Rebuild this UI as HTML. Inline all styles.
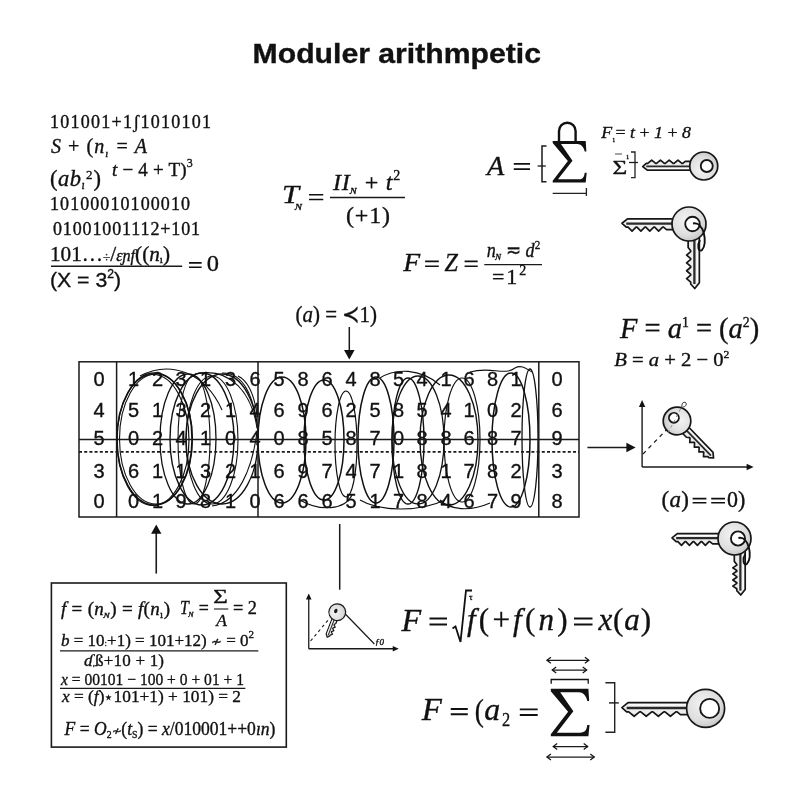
<!DOCTYPE html>
<html><head><meta charset="utf-8"><style>
html,body{margin:0;padding:0;background:#fff;}
body{width:800px;height:800px;position:relative;overflow:hidden;}
</style></head><body>
<svg width="800" height="800" viewBox="0 0 800 800" style="position:absolute;left:0;top:0;will-change:transform">
<defs><radialGradient id="kg" cx="0.42" cy="0.38" r="0.75"><stop offset="0" stop-color="#f3f3f3"/><stop offset="0.6" stop-color="#dedede"/><stop offset="1" stop-color="#b8b8b8"/></radialGradient></defs>
<style>text{stroke:#111;stroke-width:0.35px;}</style>
<g fill="#111">
<text id="title" x="252.57" y="63" font-family="Liberation Sans, sans-serif" font-size="27.5" font-style="normal" font-weight="bold" textLength="288.44" lengthAdjust="spacingAndGlyphs">Moduler arithmpetic</text>
<text id="tl1" x="49.97" y="128" font-family="Liberation Serif, serif" font-size="18" font-style="normal" font-weight="normal" textLength="161.04" lengthAdjust="spacing">101001+1ʃ1010101</text>
<text id="tl2" x="51.00" y="153" font-family="Liberation Serif, serif" font-size="20" font-style="normal" font-weight="normal" textLength="96.00" lengthAdjust="spacing"><tspan font-style="italic">S</tspan> + (<tspan font-style="italic">n</tspan><tspan font-size="11" dy="4"><tspan font-style="italic">ı</tspan></tspan><tspan dy="-4">​</tspan> = <tspan font-style="italic">A</tspan></text>
<text id="tl3" x="49.96" y="186" font-family="Liberation Serif, serif" font-size="22.5" font-style="normal" font-weight="normal" textLength="51.13" lengthAdjust="spacing">(<tspan font-style="italic">ab</tspan><tspan font-size="12" dy="3"><tspan font-style="italic">ı</tspan></tspan><tspan dy="-3">​</tspan><tspan font-size="13" dy="-7">2</tspan><tspan dy="7">​</tspan>)</text>
<text id="tl4" x="111.95" y="176" font-family="Liberation Serif, serif" font-size="19" font-style="normal" font-weight="normal" textLength="81.05" lengthAdjust="spacing"><tspan font-style="italic">t</tspan> − 4 + T)<tspan font-size="12" dy="-9">3</tspan><tspan dy="9">​</tspan></text>
<text id="tl5" x="49.98" y="210" font-family="Liberation Serif, serif" font-size="18" font-style="normal" font-weight="normal" textLength="140.02" lengthAdjust="spacing">10100010100010</text>
<text id="tl6" x="53.00" y="235" font-family="Liberation Serif, serif" font-size="18" font-style="normal" font-weight="normal" textLength="147.01" lengthAdjust="spacing">01001001112+101</text>
<text id="tl7" x="49.95" y="261" font-family="Liberation Serif, serif" font-size="21" font-style="normal" font-weight="normal" textLength="120.08" lengthAdjust="spacingAndGlyphs">101…<tspan font-size="13">÷</tspan>/<tspan font-style="italic"><tspan font-size="16">ɛɲf</tspan></tspan>((<tspan font-style="italic">n</tspan><tspan font-size="11" dy="2">ı</tspan><tspan dy="-2">​</tspan>)</text>
<line x1="51" y1="266.3" x2="182.2" y2="266.3" stroke="#1a1a1a" stroke-width="1.4" />
<path d="M189,262.9 L201.65,262.9 M189,267.2 L201.65,267.2" stroke="#111" stroke-width="1.6" fill="none"/>
<text id="tl8" x="206.85" y="271.4" font-family="Liberation Serif, serif" font-size="24" font-style="normal" font-weight="normal" textLength="12.24" lengthAdjust="spacingAndGlyphs">0</text>
<text id="tl9" x="49.97" y="286.6" font-family="Liberation Sans, sans-serif" font-size="21" font-style="normal" font-weight="normal" textLength="71.06" lengthAdjust="spacingAndGlyphs">(X = 3<tspan font-size="12" dy="-9">2</tspan><tspan dy="9">​</tspan>)</text>
<text id="tn1" x="282.00" y="203" font-family="Liberation Serif, serif" font-size="26" font-style="italic" font-weight="normal" textLength="17.00" lengthAdjust="spacingAndGlyphs">T</text>
<text id="tn2" x="295.58" y="209.5" font-family="Liberation Serif, serif" font-size="13" font-style="italic" font-weight="normal" textLength="6.42" lengthAdjust="spacingAndGlyphs">ɴ</text>
<path d="M309,194.85 L323.25,194.85 M309,199.5 L323.25,199.5" stroke="#111" stroke-width="1.5" fill="none"/>
<line x1="330" y1="197.5" x2="405" y2="197.5" stroke="#1a1a1a" stroke-width="1.6" />
<text id="tn4" x="333.00" y="190" font-family="Liberation Serif, serif" font-size="24" font-style="normal" font-weight="normal" textLength="68.02" lengthAdjust="spacing"><tspan font-style="italic">II</tspan><tspan font-size="12" dy="4"><tspan font-style="italic">ɴ</tspan></tspan><tspan dy="-4">​</tspan> + <tspan font-style="italic">t</tspan><tspan font-size="14" dy="-10">2</tspan><tspan dy="10">​</tspan></text>
<text id="tn5" x="345.95" y="222.5" font-family="Liberation Serif, serif" font-size="24" font-style="normal" font-weight="normal" textLength="44.10" lengthAdjust="spacing">(+1)</text>
<text id="a1" x="486.92" y="175.4" font-family="Liberation Serif, serif" font-size="28" font-style="italic" font-weight="normal" textLength="17.23" lengthAdjust="spacingAndGlyphs">A</text>
<path d="M513.75,163.8 L530,163.8 M513.75,169.1 L530,169.1" stroke="#111" stroke-width="1.7" fill="none"/>
<path d="M546.5,146 L542,146 L542,181.7 L546.5,181.7" fill="none" stroke="#1a1a1a" stroke-width="1.5"/>
<line x1="537.6" y1="166" x2="545.8" y2="166" stroke="#1a1a1a" stroke-width="1.3" />
<path d=" M552.70,141.00 L585.70,141.00 L586.36,151.56 L584.71,151.56 C583.72,146.80 580.75,144.10 577.45,144.10 L560.95,144.10 L572.50,160.66 L557.98,179.30 L578.44,179.30 C581.74,179.30 584.05,178.26 584.71,172.67 L586.69,172.67 L585.70,182.40 L552.70,182.40 L552.70,180.74 L567.88,161.08 L552.70,143.07 Z" fill="#111"/>
<path d="M559,141 L559,131 A8.3,8.3 0 0 1 575.6,131 L575.6,141" fill="none" stroke="#111" stroke-width="2.4"/>
<path d="M552.7,193.4 L586.4,193.4 M586.4,188 L586.4,196" fill="none" stroke="#222" stroke-width="1.3"/>
<text id="a3" x="601.36" y="137.6" font-family="Liberation Serif, serif" font-size="17.5" font-style="normal" font-weight="normal" textLength="89.64" lengthAdjust="spacingAndGlyphs"><tspan font-style="italic">F</tspan><tspan font-size="9" dy="2">₁</tspan><tspan dy="-2">​</tspan>= <tspan font-style="italic">t</tspan> + <tspan font-style="italic">1</tspan> + <tspan font-style="italic">8</tspan></text>
<text id="a4" x="612.55" y="173.5" font-family="Liberation Serif, serif" font-size="19" font-style="normal" font-weight="normal" textLength="14.72" lengthAdjust="spacingAndGlyphs">Σ</text>
<path d="M631,152 L635,152 L635,177.6 L631,177.6" fill="none" stroke="#222" stroke-width="1.3"/>
<line x1="629" y1="162.5" x2="638" y2="162.5" stroke="#1a1a1a" stroke-width="1.3" />
<text x="626.5" y="161" font-family="Liberation Serif, serif" font-size="8" font-style="normal" font-weight="normal" text-anchor="start" >¹</text>
<line x1="615" y1="154" x2="622" y2="154" stroke="#1a1a1a" stroke-width="0.8" />
<g transform="translate(703.75,166) rotate(0) scale(1.0000,-1.0000)">
<polygon points="-10.00,-4.20 -56.50,-4.20 -61.00,-0.60 -57.50,2.60 -56.00,2.60 -52.06,5.80 -48.12,2.60 -47.25,2.60 -43.31,5.80 -39.38,2.60 -38.50,2.60 -34.56,5.80 -30.62,2.60 -29.75,2.60 -25.81,5.80 -21.88,2.60 -21.00,2.60 -18.50,4.60 -10.00,4.60" fill="#ededed" stroke="#161616" stroke-width="1.70" stroke-linejoin="round"/>
<path d="M-57.5,-0.3 L-10,-0.3" stroke="#2a2a2a" stroke-width="1.8"/>
<path d="M-56.0,-2.6 L-10,-2.6" stroke="#fff" stroke-width="0.9"/>
<circle cx="0" cy="0" r="14" fill="url(#kg)" stroke="#161616" stroke-width="1.70"/>
<circle cx="3" cy="0" r="6" fill="#fff" stroke="#161616" stroke-width="1.87"/>
</g>
<text id="z1" x="403.31" y="270.8" font-family="Liberation Serif, serif" font-size="26" font-style="italic" font-weight="normal" textLength="16.91" lengthAdjust="spacingAndGlyphs">F</text>
<path d="M425.1,261.4 L438.8,261.4 M425.1,266.2 L438.8,266.2" stroke="#111" stroke-width="1.6" fill="none"/>
<text id="z3" x="444.43" y="271" font-family="Liberation Serif, serif" font-size="26" font-style="italic" font-weight="normal" textLength="13.41" lengthAdjust="spacingAndGlyphs">Z</text>
<path d="M464.6,261.4 L477.7,261.4 M464.6,266.2 L477.7,266.2" stroke="#111" stroke-width="1.6" fill="none"/>
<line x1="484.3" y1="264.6" x2="542" y2="264.6" stroke="#1a1a1a" stroke-width="1.4" />
<text id="z5" x="486.73" y="256.6" font-family="Liberation Serif, serif" font-size="21" font-style="normal" font-weight="normal" textLength="53.50" lengthAdjust="spacingAndGlyphs"><tspan font-style="italic">n</tspan><tspan font-size="12" dy="3"><tspan font-style="italic">ɴ</tspan></tspan><tspan dy="-3">​</tspan> ≂ <tspan font-style="italic">d</tspan><tspan font-size="13" dy="-8">2</tspan><tspan dy="8">​</tspan></text>
<text id="z6" x="491.90" y="284" font-family="Liberation Serif, serif" font-size="22" font-style="normal" font-weight="normal" textLength="36.23" lengthAdjust="spacing">=1<tspan font-size="14" dy="-9">2</tspan><tspan dy="9">​</tspan></text>
<text id="p1" x="295.46" y="322" font-family="Liberation Serif, serif" font-size="23" font-style="normal" font-weight="normal" textLength="81.56" lengthAdjust="spacingAndGlyphs">(<tspan font-style="italic">a</tspan>) = ≺1)</text>
<line x1="349.3" y1="327" x2="349.3" y2="352" stroke="#1a1a1a" stroke-width="1.5" />
<polygon points="349.3,359.5 344.00,350.00 354.60,350.00" fill="#111"/>
<text id="f1" x="620.00" y="338" font-family="Liberation Serif, serif" font-size="29" font-style="normal" font-weight="normal" textLength="139.23" lengthAdjust="spacingAndGlyphs"><tspan font-style="italic">F</tspan> = <tspan font-style="italic">a</tspan><tspan font-size="14" dy="-11">1</tspan><tspan dy="11">​</tspan> = (<tspan font-style="italic">a</tspan><tspan font-size="14" dy="-11">2</tspan><tspan dy="11">​</tspan>)</text>
<text id="f2" x="614.16" y="365.6" font-family="Liberation Serif, serif" font-size="19.5" font-style="normal" font-weight="normal" textLength="115.28" lengthAdjust="spacingAndGlyphs"><tspan font-style="italic">B</tspan> = <tspan font-style="italic">a</tspan> + 2 − 0<tspan font-size="11" dy="-8">2</tspan><tspan dy="8">​</tspan></text>
<text x="99" y="386.2" font-family="Liberation Sans, sans-serif" font-size="20" font-style="normal" font-weight="normal" text-anchor="middle" >0</text>
<text x="557" y="386.2" font-family="Liberation Sans, sans-serif" font-size="20" font-style="normal" font-weight="normal" text-anchor="middle" >0</text>
<text x="133.5" y="386.2" font-family="Liberation Sans, sans-serif" font-size="20" font-style="normal" font-weight="normal" text-anchor="middle" >1</text>
<text x="157.5" y="386.2" font-family="Liberation Sans, sans-serif" font-size="20" font-style="normal" font-weight="normal" text-anchor="middle" >2</text>
<text x="181" y="386.2" font-family="Liberation Sans, sans-serif" font-size="20" font-style="normal" font-weight="normal" text-anchor="middle" >3</text>
<text x="205.5" y="386.2" font-family="Liberation Sans, sans-serif" font-size="20" font-style="normal" font-weight="normal" text-anchor="middle" >1</text>
<text x="230.5" y="386.2" font-family="Liberation Sans, sans-serif" font-size="20" font-style="normal" font-weight="normal" text-anchor="middle" >3</text>
<text x="255" y="386.2" font-family="Liberation Sans, sans-serif" font-size="20" font-style="normal" font-weight="normal" text-anchor="middle" >6</text>
<text x="279" y="386.2" font-family="Liberation Sans, sans-serif" font-size="20" font-style="normal" font-weight="normal" text-anchor="middle" >5</text>
<text x="303" y="386.2" font-family="Liberation Sans, sans-serif" font-size="20" font-style="normal" font-weight="normal" text-anchor="middle" >8</text>
<text x="327" y="386.2" font-family="Liberation Sans, sans-serif" font-size="20" font-style="normal" font-weight="normal" text-anchor="middle" >6</text>
<text x="351" y="386.2" font-family="Liberation Sans, sans-serif" font-size="20" font-style="normal" font-weight="normal" text-anchor="middle" >4</text>
<text x="375" y="386.2" font-family="Liberation Sans, sans-serif" font-size="20" font-style="normal" font-weight="normal" text-anchor="middle" >8</text>
<text x="398.5" y="386.2" font-family="Liberation Sans, sans-serif" font-size="20" font-style="normal" font-weight="normal" text-anchor="middle" >5</text>
<text x="422" y="386.2" font-family="Liberation Sans, sans-serif" font-size="20" font-style="normal" font-weight="normal" text-anchor="middle" >4</text>
<text x="446" y="386.2" font-family="Liberation Sans, sans-serif" font-size="20" font-style="normal" font-weight="normal" text-anchor="middle" >1</text>
<text x="469" y="386.2" font-family="Liberation Sans, sans-serif" font-size="20" font-style="normal" font-weight="normal" text-anchor="middle" >6</text>
<text x="492.5" y="386.2" font-family="Liberation Sans, sans-serif" font-size="20" font-style="normal" font-weight="normal" text-anchor="middle" >8</text>
<text x="516" y="386.2" font-family="Liberation Sans, sans-serif" font-size="20" font-style="normal" font-weight="normal" text-anchor="middle" >1</text>
<text x="99" y="417.2" font-family="Liberation Sans, sans-serif" font-size="20" font-style="normal" font-weight="normal" text-anchor="middle" >4</text>
<text x="557" y="417.2" font-family="Liberation Sans, sans-serif" font-size="20" font-style="normal" font-weight="normal" text-anchor="middle" >6</text>
<text x="133.5" y="417.2" font-family="Liberation Sans, sans-serif" font-size="20" font-style="normal" font-weight="normal" text-anchor="middle" >5</text>
<text x="157.5" y="417.2" font-family="Liberation Sans, sans-serif" font-size="20" font-style="normal" font-weight="normal" text-anchor="middle" >1</text>
<text x="181" y="417.2" font-family="Liberation Sans, sans-serif" font-size="20" font-style="normal" font-weight="normal" text-anchor="middle" >3</text>
<text x="205.5" y="417.2" font-family="Liberation Sans, sans-serif" font-size="20" font-style="normal" font-weight="normal" text-anchor="middle" >2</text>
<text x="230.5" y="417.2" font-family="Liberation Sans, sans-serif" font-size="20" font-style="normal" font-weight="normal" text-anchor="middle" >1</text>
<text x="255" y="417.2" font-family="Liberation Sans, sans-serif" font-size="20" font-style="normal" font-weight="normal" text-anchor="middle" >4</text>
<text x="279" y="417.2" font-family="Liberation Sans, sans-serif" font-size="20" font-style="normal" font-weight="normal" text-anchor="middle" >6</text>
<text x="303" y="417.2" font-family="Liberation Sans, sans-serif" font-size="20" font-style="normal" font-weight="normal" text-anchor="middle" >9</text>
<text x="327" y="417.2" font-family="Liberation Sans, sans-serif" font-size="20" font-style="normal" font-weight="normal" text-anchor="middle" >6</text>
<text x="351" y="417.2" font-family="Liberation Sans, sans-serif" font-size="20" font-style="normal" font-weight="normal" text-anchor="middle" >2</text>
<text x="375" y="417.2" font-family="Liberation Sans, sans-serif" font-size="20" font-style="normal" font-weight="normal" text-anchor="middle" >5</text>
<text x="398.5" y="417.2" font-family="Liberation Sans, sans-serif" font-size="20" font-style="normal" font-weight="normal" text-anchor="middle" >8</text>
<text x="422" y="417.2" font-family="Liberation Sans, sans-serif" font-size="20" font-style="normal" font-weight="normal" text-anchor="middle" >5</text>
<text x="446" y="417.2" font-family="Liberation Sans, sans-serif" font-size="20" font-style="normal" font-weight="normal" text-anchor="middle" >4</text>
<text x="469" y="417.2" font-family="Liberation Sans, sans-serif" font-size="20" font-style="normal" font-weight="normal" text-anchor="middle" >1</text>
<text x="492.5" y="417.2" font-family="Liberation Sans, sans-serif" font-size="20" font-style="normal" font-weight="normal" text-anchor="middle" >0</text>
<text x="516" y="417.2" font-family="Liberation Sans, sans-serif" font-size="20" font-style="normal" font-weight="normal" text-anchor="middle" >2</text>
<text x="99" y="444.7" font-family="Liberation Sans, sans-serif" font-size="20" font-style="normal" font-weight="normal" text-anchor="middle" >5</text>
<text x="557" y="444.7" font-family="Liberation Sans, sans-serif" font-size="20" font-style="normal" font-weight="normal" text-anchor="middle" >9</text>
<text x="133.5" y="444.7" font-family="Liberation Sans, sans-serif" font-size="20" font-style="normal" font-weight="normal" text-anchor="middle" >0</text>
<text x="157.5" y="444.7" font-family="Liberation Sans, sans-serif" font-size="20" font-style="normal" font-weight="normal" text-anchor="middle" >2</text>
<text x="181" y="444.7" font-family="Liberation Sans, sans-serif" font-size="20" font-style="normal" font-weight="normal" text-anchor="middle" >4</text>
<text x="205.5" y="444.7" font-family="Liberation Sans, sans-serif" font-size="20" font-style="normal" font-weight="normal" text-anchor="middle" >1</text>
<text x="230.5" y="444.7" font-family="Liberation Sans, sans-serif" font-size="20" font-style="normal" font-weight="normal" text-anchor="middle" >0</text>
<text x="255" y="444.7" font-family="Liberation Sans, sans-serif" font-size="20" font-style="normal" font-weight="normal" text-anchor="middle" >4</text>
<text x="279" y="444.7" font-family="Liberation Sans, sans-serif" font-size="20" font-style="normal" font-weight="normal" text-anchor="middle" >0</text>
<text x="303" y="444.7" font-family="Liberation Sans, sans-serif" font-size="20" font-style="normal" font-weight="normal" text-anchor="middle" >8</text>
<text x="327" y="444.7" font-family="Liberation Sans, sans-serif" font-size="20" font-style="normal" font-weight="normal" text-anchor="middle" >5</text>
<text x="351" y="444.7" font-family="Liberation Sans, sans-serif" font-size="20" font-style="normal" font-weight="normal" text-anchor="middle" >8</text>
<text x="375" y="444.7" font-family="Liberation Sans, sans-serif" font-size="20" font-style="normal" font-weight="normal" text-anchor="middle" >7</text>
<text x="398.5" y="444.7" font-family="Liberation Sans, sans-serif" font-size="20" font-style="normal" font-weight="normal" text-anchor="middle" >0</text>
<text x="422" y="444.7" font-family="Liberation Sans, sans-serif" font-size="20" font-style="normal" font-weight="normal" text-anchor="middle" >8</text>
<text x="446" y="444.7" font-family="Liberation Sans, sans-serif" font-size="20" font-style="normal" font-weight="normal" text-anchor="middle" >8</text>
<text x="469" y="444.7" font-family="Liberation Sans, sans-serif" font-size="20" font-style="normal" font-weight="normal" text-anchor="middle" >6</text>
<text x="492.5" y="444.7" font-family="Liberation Sans, sans-serif" font-size="20" font-style="normal" font-weight="normal" text-anchor="middle" >8</text>
<text x="516" y="444.7" font-family="Liberation Sans, sans-serif" font-size="20" font-style="normal" font-weight="normal" text-anchor="middle" >7</text>
<text x="99" y="477.7" font-family="Liberation Sans, sans-serif" font-size="20" font-style="normal" font-weight="normal" text-anchor="middle" >3</text>
<text x="557" y="477.7" font-family="Liberation Sans, sans-serif" font-size="20" font-style="normal" font-weight="normal" text-anchor="middle" >3</text>
<text x="133.5" y="477.7" font-family="Liberation Sans, sans-serif" font-size="20" font-style="normal" font-weight="normal" text-anchor="middle" >6</text>
<text x="157.5" y="477.7" font-family="Liberation Sans, sans-serif" font-size="20" font-style="normal" font-weight="normal" text-anchor="middle" >1</text>
<text x="181" y="477.7" font-family="Liberation Sans, sans-serif" font-size="20" font-style="normal" font-weight="normal" text-anchor="middle" >1</text>
<text x="205.5" y="477.7" font-family="Liberation Sans, sans-serif" font-size="20" font-style="normal" font-weight="normal" text-anchor="middle" >3</text>
<text x="230.5" y="477.7" font-family="Liberation Sans, sans-serif" font-size="20" font-style="normal" font-weight="normal" text-anchor="middle" >2</text>
<text x="255" y="477.7" font-family="Liberation Sans, sans-serif" font-size="20" font-style="normal" font-weight="normal" text-anchor="middle" >1</text>
<text x="279" y="477.7" font-family="Liberation Sans, sans-serif" font-size="20" font-style="normal" font-weight="normal" text-anchor="middle" >6</text>
<text x="303" y="477.7" font-family="Liberation Sans, sans-serif" font-size="20" font-style="normal" font-weight="normal" text-anchor="middle" >9</text>
<text x="327" y="477.7" font-family="Liberation Sans, sans-serif" font-size="20" font-style="normal" font-weight="normal" text-anchor="middle" >7</text>
<text x="351" y="477.7" font-family="Liberation Sans, sans-serif" font-size="20" font-style="normal" font-weight="normal" text-anchor="middle" >4</text>
<text x="375" y="477.7" font-family="Liberation Sans, sans-serif" font-size="20" font-style="normal" font-weight="normal" text-anchor="middle" >7</text>
<text x="398.5" y="477.7" font-family="Liberation Sans, sans-serif" font-size="20" font-style="normal" font-weight="normal" text-anchor="middle" >1</text>
<text x="422" y="477.7" font-family="Liberation Sans, sans-serif" font-size="20" font-style="normal" font-weight="normal" text-anchor="middle" >8</text>
<text x="446" y="477.7" font-family="Liberation Sans, sans-serif" font-size="20" font-style="normal" font-weight="normal" text-anchor="middle" >1</text>
<text x="469" y="477.7" font-family="Liberation Sans, sans-serif" font-size="20" font-style="normal" font-weight="normal" text-anchor="middle" >7</text>
<text x="492.5" y="477.7" font-family="Liberation Sans, sans-serif" font-size="20" font-style="normal" font-weight="normal" text-anchor="middle" >8</text>
<text x="516" y="477.7" font-family="Liberation Sans, sans-serif" font-size="20" font-style="normal" font-weight="normal" text-anchor="middle" >2</text>
<text x="99" y="507.7" font-family="Liberation Sans, sans-serif" font-size="20" font-style="normal" font-weight="normal" text-anchor="middle" >0</text>
<text x="557" y="507.7" font-family="Liberation Sans, sans-serif" font-size="20" font-style="normal" font-weight="normal" text-anchor="middle" >8</text>
<text x="133.5" y="507.7" font-family="Liberation Sans, sans-serif" font-size="20" font-style="normal" font-weight="normal" text-anchor="middle" >0</text>
<text x="157.5" y="507.7" font-family="Liberation Sans, sans-serif" font-size="20" font-style="normal" font-weight="normal" text-anchor="middle" >1</text>
<text x="181" y="507.7" font-family="Liberation Sans, sans-serif" font-size="20" font-style="normal" font-weight="normal" text-anchor="middle" >9</text>
<text x="205.5" y="507.7" font-family="Liberation Sans, sans-serif" font-size="20" font-style="normal" font-weight="normal" text-anchor="middle" >8</text>
<text x="230.5" y="507.7" font-family="Liberation Sans, sans-serif" font-size="20" font-style="normal" font-weight="normal" text-anchor="middle" >1</text>
<text x="255" y="507.7" font-family="Liberation Sans, sans-serif" font-size="20" font-style="normal" font-weight="normal" text-anchor="middle" >0</text>
<text x="279" y="507.7" font-family="Liberation Sans, sans-serif" font-size="20" font-style="normal" font-weight="normal" text-anchor="middle" >6</text>
<text x="303" y="507.7" font-family="Liberation Sans, sans-serif" font-size="20" font-style="normal" font-weight="normal" text-anchor="middle" >6</text>
<text x="327" y="507.7" font-family="Liberation Sans, sans-serif" font-size="20" font-style="normal" font-weight="normal" text-anchor="middle" >6</text>
<text x="351" y="507.7" font-family="Liberation Sans, sans-serif" font-size="20" font-style="normal" font-weight="normal" text-anchor="middle" >5</text>
<text x="375" y="507.7" font-family="Liberation Sans, sans-serif" font-size="20" font-style="normal" font-weight="normal" text-anchor="middle" >1</text>
<text x="398.5" y="507.7" font-family="Liberation Sans, sans-serif" font-size="20" font-style="normal" font-weight="normal" text-anchor="middle" >7</text>
<text x="422" y="507.7" font-family="Liberation Sans, sans-serif" font-size="20" font-style="normal" font-weight="normal" text-anchor="middle" >8</text>
<text x="446" y="507.7" font-family="Liberation Sans, sans-serif" font-size="20" font-style="normal" font-weight="normal" text-anchor="middle" >4</text>
<text x="469" y="507.7" font-family="Liberation Sans, sans-serif" font-size="20" font-style="normal" font-weight="normal" text-anchor="middle" >6</text>
<text x="492.5" y="507.7" font-family="Liberation Sans, sans-serif" font-size="20" font-style="normal" font-weight="normal" text-anchor="middle" >7</text>
<text x="516" y="507.7" font-family="Liberation Sans, sans-serif" font-size="20" font-style="normal" font-weight="normal" text-anchor="middle" >9</text>
<ellipse cx="154.5" cy="439" rx="37.5" ry="66" fill="none" stroke="#111" stroke-width="1.5"/>
<ellipse cx="153" cy="440" rx="36" ry="65.5" fill="none" stroke="#111" stroke-width="1.2"/>
<ellipse cx="156" cy="439" rx="36.5" ry="65" fill="none" stroke="#111" stroke-width="1.1"/>
<ellipse cx="188" cy="439" rx="28" ry="65" fill="none" stroke="#111" stroke-width="1.3"/>
<ellipse cx="202" cy="439" rx="32" ry="66" fill="none" stroke="#111" stroke-width="1.4"/>
<ellipse cx="222" cy="439" rx="36" ry="65" fill="none" stroke="#111" stroke-width="1.4"/>
<ellipse cx="212" cy="440" rx="26" ry="64" fill="none" stroke="#111" stroke-width="1.1"/>
<ellipse cx="194" cy="440" rx="16" ry="64" fill="none" stroke="#111" stroke-width="1.1"/>
<ellipse cx="282" cy="440" rx="24" ry="63" fill="none" stroke="#111" stroke-width="1.5"/>
<ellipse cx="324" cy="440" rx="20" ry="60" fill="none" stroke="#111" stroke-width="1.5"/>
<ellipse cx="346" cy="444" rx="11" ry="53" fill="none" stroke="#111" stroke-width="1.2"/>
<ellipse cx="376" cy="440" rx="18" ry="63" fill="none" stroke="#111" stroke-width="1.5"/>
<ellipse cx="408" cy="441" rx="16" ry="63" fill="none" stroke="#111" stroke-width="1.4"/>
<ellipse cx="418" cy="440" rx="26" ry="64" fill="none" stroke="#111" stroke-width="1.3"/>
<ellipse cx="449" cy="440" rx="29" ry="65" fill="none" stroke="#111" stroke-width="1.4"/>
<ellipse cx="462" cy="440" rx="18" ry="62" fill="none" stroke="#111" stroke-width="1.2"/>
<ellipse cx="511" cy="440" rx="19" ry="67" fill="none" stroke="#111" stroke-width="1.5"/>
<ellipse cx="530" cy="438" rx="8" ry="69" fill="none" stroke="#111" stroke-width="1.3"/>
<path d="M195,374 C232,366 252,395 257,428" fill="none" stroke="#111" stroke-width="1.1"/>
<path d="M222,373 C244,372 253,398 256,420" fill="none" stroke="#111" stroke-width="1.1"/>
<path d="M238,376 C250,382 255,400 257,415" fill="none" stroke="#111" stroke-width="1.1"/>
<path d="M257,432 C252,470 238,503 212,506" fill="none" stroke="#111" stroke-width="1.1"/>
<path d="M140,376 C170,360 205,372 222,410" fill="none" stroke="#111" stroke-width="1.1"/>
<path d="M300,500 C320,512 345,510 352,495" fill="none" stroke="#111" stroke-width="1.1"/>
<path d="M360,500 C380,512 420,512 445,500" fill="none" stroke="#111" stroke-width="1.1"/>
<path d="M470,372 C490,366 505,376 515,368 C522,364 528,370 532,372" fill="none" stroke="#111" stroke-width="1.1"/>
<path d="M380,378 C395,368 420,368 440,385" fill="none" stroke="#111" stroke-width="1.1"/>
<path d="M440,500 C450,510 470,512 490,503" fill="none" stroke="#111" stroke-width="1.1"/>
<rect x="79" y="361.8" width="500" height="155.2" fill="none" stroke="#1a1a1a" stroke-width="1.5"/>
<line x1="116.6" y1="361.8" x2="116.6" y2="517" stroke="#1a1a1a" stroke-width="1.5" />
<line x1="258" y1="361.8" x2="258" y2="517" stroke="#1a1a1a" stroke-width="1.5" />
<line x1="538.8" y1="361.8" x2="538.8" y2="517" stroke="#1a1a1a" stroke-width="1.5" />
<line x1="79" y1="439.5" x2="579" y2="439.5" stroke="#1a1a1a" stroke-width="1.5" />
<line x1="79" y1="451.9" x2="579" y2="451.9" stroke="#1a1a1a" stroke-width="1.7" stroke-dasharray="3,2.2"/>
<line x1="587.4" y1="447.5" x2="628" y2="447.5" stroke="#1a1a1a" stroke-width="1.6" />
<polygon points="635.6,447.5 626.40,452.30 626.40,442.70" fill="#111"/>
<line x1="642.1" y1="467" x2="642.1" y2="406" stroke="#1a1a1a" stroke-width="1.4" />
<polygon points="642.1,400 645.30,407.00 638.90,407.00" fill="#111"/>
<line x1="642.1" y1="467" x2="747" y2="467" stroke="#1a1a1a" stroke-width="1.4" />
<polygon points="753.6,467 746.60,470.20 746.60,463.80" fill="#111"/>
<line x1="643" y1="454" x2="672" y2="424" stroke="#1a1a1a" stroke-width="1.2" stroke-dasharray="4,4"/>
<g transform="translate(677,421) rotate(-134) scale(0.9857,-0.9857)">
<polygon points="-10.00,-4.20 -48.25,-4.20 -52.75,-0.60 -49.25,2.60 -47.75,2.60 -44.74,5.80 -41.73,2.60 -41.07,2.60 -38.06,5.80 -35.05,2.60 -34.38,2.60 -31.37,5.80 -28.36,2.60 -27.69,2.60 -24.68,5.80 -21.67,2.60 -21.00,2.60 -18.50,4.60 -10.00,4.60" fill="#ededed" stroke="#161616" stroke-width="1.72" stroke-linejoin="round"/>
<path d="M-49.2536231884058,-0.3 L-10,-0.3" stroke="#2a2a2a" stroke-width="1.8"/>
<path d="M-47.7536231884058,-2.6 L-10,-2.6" stroke="#fff" stroke-width="0.9"/>
<circle cx="0" cy="0" r="14" fill="url(#kg)" stroke="#161616" stroke-width="1.72"/>
<circle cx="4.5" cy="0" r="5" fill="#fff" stroke="#161616" stroke-width="1.90"/>
</g>
<line x1="668" y1="433" x2="681" y2="408" stroke="#888" stroke-width="0.9" stroke-dasharray="3,3"/>
<path d="M682,408 C681,403 684,401 686,403 C687,405 685,407 683,407" fill="none" stroke="#333" stroke-width="1"/>
<text id="e1" x="661.53" y="507" font-family="Liberation Serif, serif" font-size="23" font-style="normal" font-weight="normal" textLength="27.46" lengthAdjust="spacing">(<tspan font-style="italic">a</tspan>)</text>
<path d="M692.6,498.6 L706.4,498.6 M692.6,502.7 L706.4,502.7" stroke="#111" stroke-width="1.6" fill="none"/>
<path d="M711.2,498.6 L725,498.6 M711.2,502.7 L725,502.7" stroke="#111" stroke-width="1.6" fill="none"/>
<text id="e2" x="726.93" y="507" font-family="Liberation Serif, serif" font-size="23" font-style="normal" font-weight="normal" textLength="18.31" lengthAdjust="spacingAndGlyphs">0)</text>
<g transform="translate(694,224) rotate(-90) scale(1.2750,-1.2750)">
<polygon points="-10.00,-4.20 -46.09,-4.20 -50.59,-0.60 -47.09,2.60 -45.59,2.60 -42.82,5.80 -40.06,2.60 -39.44,2.60 -36.67,5.80 -33.91,2.60 -33.29,2.60 -30.53,5.80 -27.76,2.60 -27.15,2.60 -24.38,5.80 -21.61,2.60 -21.00,2.60 -18.50,4.60 -10.00,4.60" fill="#ededed" stroke="#161616" stroke-width="1.33" stroke-linejoin="round"/>
<path d="M-47.088235294117645,-0.3 L-10,-0.3" stroke="#2a2a2a" stroke-width="1.8"/>
<path d="M-45.588235294117645,-2.6 L-10,-2.6" stroke="#fff" stroke-width="0.9"/>
</g>
<g transform="translate(689,224) rotate(0) scale(1.2143,1.2143)">
<polygon points="-10.00,-4.20 -50.68,-4.20 -55.18,-0.60 -51.68,2.60 -50.18,2.60 -46.89,5.80 -43.61,2.60 -42.88,2.60 -39.60,5.80 -36.32,2.60 -35.59,2.60 -32.31,5.80 -29.02,2.60 -28.29,2.60 -25.01,5.80 -21.73,2.60 -21.00,2.60 -18.50,4.60 -10.00,4.60" fill="#ededed" stroke="#161616" stroke-width="1.40" stroke-linejoin="round"/>
<path d="M-51.6764705882353,-0.3 L-10,-0.3" stroke="#2a2a2a" stroke-width="1.8"/>
<path d="M-50.1764705882353,-2.6 L-10,-2.6" stroke="#fff" stroke-width="0.9"/>
<circle cx="0" cy="0" r="14" fill="url(#kg)" stroke="#161616" stroke-width="1.40"/>
<circle cx="2.8823529411764706" cy="0" r="6" fill="#fff" stroke="#161616" stroke-width="1.54"/>
</g>
<path d="M693.0,223.5 C704.0,221.0 708.0,244.0 702.0,250.0 C698.0,253.0 697.0,245.0 700.0,240.0" fill="none" stroke="#111" stroke-width="1.9"/>
<g transform="translate(740.0,538.5) rotate(-90) scale(1.2375,-1.2375)">
<polygon points="-10.00,-4.20 -41.16,-4.20 -45.66,-0.60 -42.16,2.60 -40.66,2.60 -38.45,5.80 -36.23,2.60 -35.74,2.60 -33.53,5.80 -31.32,2.60 -30.83,2.60 -28.62,5.80 -26.41,2.60 -25.91,2.60 -23.70,5.80 -21.49,2.60 -21.00,2.60 -18.50,4.60 -10.00,4.60" fill="#ededed" stroke="#161616" stroke-width="1.37" stroke-linejoin="round"/>
<path d="M-42.156565656565654,-0.3 L-10,-0.3" stroke="#2a2a2a" stroke-width="1.8"/>
<path d="M-40.656565656565654,-2.6 L-10,-2.6" stroke="#fff" stroke-width="0.9"/>
</g>
<g transform="translate(734.5,538.5) rotate(0) scale(1.1786,1.1786)">
<polygon points="-10.00,-4.20 -48.53,-4.20 -53.03,-0.60 -49.53,2.60 -48.03,2.60 -44.99,5.80 -41.95,2.60 -41.27,2.60 -38.23,5.80 -35.19,2.60 -34.52,2.60 -31.47,5.80 -28.43,2.60 -27.76,2.60 -24.72,5.80 -21.68,2.60 -21.00,2.60 -18.50,4.60 -10.00,4.60" fill="#ededed" stroke="#161616" stroke-width="1.44" stroke-linejoin="round"/>
<path d="M-49.53030303030303,-0.3 L-10,-0.3" stroke="#2a2a2a" stroke-width="1.8"/>
<path d="M-48.03030303030303,-2.6 L-10,-2.6" stroke="#fff" stroke-width="0.9"/>
<circle cx="0" cy="0" r="14" fill="url(#kg)" stroke="#161616" stroke-width="1.44"/>
<circle cx="2.9696969696969697" cy="0" r="6" fill="#fff" stroke="#161616" stroke-width="1.59"/>
</g>
<path d="M738.4,538.0 C749.1,535.6 752.9,557.9 747.1,563.7 C743.2,566.6 742.3,558.9 745.2,554.0" fill="none" stroke="#111" stroke-width="1.9"/>
<line x1="156.25" y1="573.6" x2="156.25" y2="533" stroke="#1a1a1a" stroke-width="1.6" />
<polygon points="156.25,524.4 161.45,533.80 151.05,533.80" fill="#111"/>
<line x1="339.7" y1="524" x2="339.7" y2="589.7" stroke="#1a1a1a" stroke-width="1.5" />
<line x1="308.75" y1="648.75" x2="308.75" y2="599" stroke="#1a1a1a" stroke-width="1.3" />
<polygon points="308.75,593.4 311.55,599.40 305.95,599.40" fill="#111"/>
<line x1="308.75" y1="648.75" x2="393" y2="648.75" stroke="#1a1a1a" stroke-width="1.3" />
<polygon points="398.75,648.75 392.75,651.55 392.75,645.95" fill="#111"/>
<line x1="310.6" y1="641" x2="330" y2="617.8" stroke="#1a1a1a" stroke-width="1.1" stroke-dasharray="3,3"/>
<line x1="345.3" y1="614" x2="374.4" y2="644" stroke="#1a1a1a" stroke-width="1.2" />
<g transform="translate(337.25,612.2) rotate(-69) scale(0.6000,0.6000)">
<polygon points="-10.00,-4.20 -40.50,-4.20 -45.00,-0.60 -41.50,2.60 -40.00,2.60 -37.15,5.80 -34.30,2.60 -33.67,2.60 -30.82,5.80 -27.97,2.60 -27.33,2.60 -24.48,5.80 -21.63,2.60 -21.00,2.60 -18.50,4.60 -10.00,4.60" fill="#ededed" stroke="#161616" stroke-width="2.00" stroke-linejoin="round"/>
<path d="M-41.5,-0.3 L-10,-0.3" stroke="#2a2a2a" stroke-width="1.8"/>
<path d="M-40.0,-2.6 L-10,-2.6" stroke="#fff" stroke-width="0.9"/>
<circle cx="0" cy="0" r="14" fill="url(#kg)" stroke="#161616" stroke-width="2.00"/>
<ellipse cx="1" cy="-3" rx="3.8" ry="2.8" fill="#1a1a1a"/>
</g>
<text x="375" y="645" font-family="Liberation Serif, serif" font-size="9" font-style="italic" font-weight="normal" text-anchor="start" >ƒ0</text>
<rect x="51.4" y="583" width="234.9" height="164.1" fill="none" stroke="#1a1a1a" stroke-width="1.6"/>
<text id="b1" x="61.00" y="615" font-family="Liberation Serif, serif" font-size="19" font-style="normal" font-weight="normal" textLength="109.01" lengthAdjust="spacing"><tspan font-style="italic">f</tspan> = (<tspan font-style="italic">n</tspan><tspan font-size="11" dy="3"><tspan font-style="italic">ɴ</tspan></tspan><tspan dy="-3">​</tspan>) = <tspan font-style="italic">f</tspan>(<tspan font-style="italic">n</tspan><tspan font-size="11" dy="3">ı</tspan><tspan dy="-3">​</tspan>)</text>
<text id="b2" x="179.91" y="614.3" font-family="Liberation Serif, serif" font-size="19" font-style="normal" font-weight="normal" textLength="13.55" lengthAdjust="spacingAndGlyphs"><tspan font-style="italic">T</tspan><tspan font-size="11" dy="3"><tspan font-style="italic">ɴ</tspan></tspan><tspan dy="-3">​</tspan></text>
<text id="b3" x="198.82" y="614.3" font-family="Liberation Serif, serif" font-size="19" font-style="normal" font-weight="normal" textLength="10.05" lengthAdjust="spacingAndGlyphs">=</text>
<text id="b4" x="213.33" y="602.9" font-family="Liberation Serif, serif" font-size="18.5" font-style="normal" font-weight="normal" textLength="14.51" lengthAdjust="spacingAndGlyphs">Σ</text>
<line x1="214" y1="609" x2="228.25" y2="609" stroke="#1a1a1a" stroke-width="1.1" />
<text id="b5" x="216.21" y="625.6" font-family="Liberation Serif, serif" font-size="17" font-style="italic" font-weight="normal" textLength="10.63" lengthAdjust="spacingAndGlyphs">A</text>
<text id="b6" x="232.94" y="614.3" font-family="Liberation Serif, serif" font-size="19" font-style="normal" font-weight="normal" textLength="24.05" lengthAdjust="spacingAndGlyphs">= 2</text>
<text id="b7" x="61.00" y="646" font-family="Liberation Serif, serif" font-size="17" font-style="normal" font-weight="normal" textLength="193.00" lengthAdjust="spacingAndGlyphs"><tspan font-style="italic">b</tspan> = 10<tspan font-size="9">:</tspan>+1) = 101+12) <tspan font-size="13">≁</tspan> = 0<tspan font-size="11" dy="-8">2</tspan><tspan dy="8">​</tspan></text>
<line x1="60" y1="650.8" x2="258.3" y2="650.8" stroke="#1a1a1a" stroke-width="1.2" />
<text id="b8" x="83.97" y="666" font-family="Liberation Serif, serif" font-size="17" font-style="normal" font-weight="normal" textLength="80.06" lengthAdjust="spacing"><tspan font-style="italic">ɗ</tspan><tspan font-size="9">,</tspan>ß+10 + 1)</text>
<text id="b9" x="60.98" y="685.25" font-family="Liberation Serif, serif" font-size="17" font-style="normal" font-weight="normal" textLength="183.02" lengthAdjust="spacingAndGlyphs"><tspan font-style="italic">x</tspan> = 00101 − 100 + 0 + 01 + 1</text>
<line x1="60" y1="688.4" x2="245.4" y2="688.4" stroke="#1a1a1a" stroke-width="1.2" />
<text id="b10" x="61.99" y="702" font-family="Liberation Serif, serif" font-size="17" font-style="normal" font-weight="normal" textLength="179.01" lengthAdjust="spacingAndGlyphs"><tspan font-style="italic">x</tspan> = (<tspan font-style="italic">f</tspan>)<tspan font-size="14">⋆</tspan>101+1) + 101) = 2</text>
<text id="b11" x="64.58" y="734.7" font-family="Liberation Serif, serif" font-size="18" font-style="normal" font-weight="normal" textLength="210.84" lengthAdjust="spacingAndGlyphs"><tspan font-style="italic">F</tspan> = <tspan font-style="italic">O</tspan><tspan font-size="10" dy="3">2</tspan><tspan dy="-3">​</tspan><tspan font-size="12">≁</tspan>(<tspan font-style="italic">t</tspan><tspan font-size="10" dy="3">S</tspan><tspan dy="-3">​</tspan>) = <tspan font-style="italic">x</tspan>/010001++0<tspan font-style="italic">ın</tspan>)</text>
<text id="s1" x="401.52" y="630.5" font-family="Liberation Serif, serif" font-size="31" font-style="italic" font-weight="normal" textLength="19.65" lengthAdjust="spacingAndGlyphs">F</text>
<path d="M429.5,618.5 L447,618.5 M429.5,624.5 L447,624.5" stroke="#111" stroke-width="1.8" fill="none"/>
<path d="M452.5,628.5 L455.5,626.5 L460.5,642 L466,590.5 L472,590.5" fill="none" stroke="#111" stroke-width="1.8" stroke-linejoin="miter"/>
<text x="469" y="600" font-family="Liberation Serif, serif" font-size="9" font-style="normal" font-weight="normal" text-anchor="start" >τ</text>
<text id="s3" x="467.00" y="630" font-family="Liberation Serif, serif" font-size="31" font-style="normal" font-weight="normal" textLength="100.55" lengthAdjust="spacing"><tspan font-style="italic">f</tspan>(+<tspan font-style="italic">f</tspan>(<tspan font-style="italic">n</tspan>)</text>
<path d="M574,618.5 L592.5,618.5 M574,624.5 L592.5,624.5" stroke="#111" stroke-width="1.8" fill="none"/>
<text id="s4" x="598.39" y="630" font-family="Liberation Serif, serif" font-size="31" font-style="normal" font-weight="normal" textLength="52.62" lengthAdjust="spacing"><tspan font-style="italic">x</tspan>(<tspan font-style="italic">a</tspan>)</text>
<text id="g1" x="421.66" y="720" font-family="Liberation Serif, serif" font-size="32" font-style="italic" font-weight="normal" textLength="20.09" lengthAdjust="spacingAndGlyphs">F</text>
<path d="M450.75,709 L467.8,709 M450.75,714.25 L467.8,714.25" stroke="#111" stroke-width="1.8" fill="none"/>
<text id="g2" x="474.74" y="721" font-family="Liberation Serif, serif" font-size="32" font-style="normal" font-weight="normal" textLength="9.13" lengthAdjust="spacingAndGlyphs">(</text>
<text id="g3" x="484.26" y="720" font-family="Liberation Serif, serif" font-size="32" font-style="italic" font-weight="normal" textLength="15.95" lengthAdjust="spacingAndGlyphs">a</text>
<text id="g4" x="502.02" y="726.4" font-family="Liberation Serif, serif" font-size="19" font-style="normal" font-weight="normal" textLength="8.18" lengthAdjust="spacingAndGlyphs">2</text>
<path d="M519.8,709.4 L537.7,709.4 M519.8,715 L537.7,715" stroke="#111" stroke-width="1.8" fill="none"/>
<path d=" M550.80,688.80 L588.40,688.80 L589.15,700.89 L587.27,700.89 C586.14,695.44 582.76,692.36 579.00,692.36 L560.20,692.36 L573.36,711.32 L556.82,732.64 L580.13,732.64 C583.89,732.64 586.52,731.46 587.27,725.06 L589.53,725.06 L588.40,736.20 L550.80,736.20 L550.80,734.30 L568.10,711.79 L550.80,691.17 Z" fill="#111"/>
<line x1="546.9" y1="660.3" x2="588.9" y2="660.3" stroke="#1a1a1a" stroke-width="1.2" />
<path d="M550.9,657.3 L546.9,660.3 L550.9,663.3 M584.9,657.3 L588.9,660.3 L584.9,663.3" fill="none" stroke="#111" stroke-width="1.2"/>
<line x1="552.2" y1="670.1" x2="586.7" y2="670.1" stroke="#1a1a1a" stroke-width="1.2" />
<path d="M556.2,667.1 L552.2,670.1 L556.2,673.1 M582.7,667.1 L586.7,670.1 L582.7,673.1" fill="none" stroke="#111" stroke-width="1.2"/>
<path d="M551.2,683.8 L551.2,679.5 L588.2,679.5 L588.2,683.8" fill="none" stroke="#111" stroke-width="1.3"/>
<line x1="553.2" y1="746.6" x2="587.7" y2="746.6" stroke="#1a1a1a" stroke-width="1.2" />
<path d="M557.2,743.6 L553.2,746.6 L557.2,749.6 M583.7,743.6 L587.7,746.6 L583.7,749.6" fill="none" stroke="#111" stroke-width="1.2"/>
<line x1="546.9" y1="757.1" x2="594.3" y2="757.1" stroke="#1a1a1a" stroke-width="1.2" />
<path d="M550.9,754.1 L546.9,757.1 L550.9,760.1 M590.3,754.1 L594.3,757.1 L590.3,760.1" fill="none" stroke="#111" stroke-width="1.2"/>
<path d="M605.4,682.8 L614.7,682.8 L614.7,732.2 L605.4,732.2" fill="none" stroke="#222" stroke-width="1.4"/>
<line x1="609" y1="702.9" x2="618.8" y2="702.9" stroke="#1a1a1a" stroke-width="1.4" />
<g transform="translate(705.6,708.4) rotate(0) scale(1.3571,1.3571)">
<polygon points="-10.00,-4.20 -57.17,-4.20 -61.67,-0.60 -58.17,2.60 -56.67,2.60 -52.66,5.80 -48.65,2.60 -47.76,2.60 -43.74,5.80 -39.73,2.60 -38.84,2.60 -34.82,5.80 -30.81,2.60 -29.92,2.60 -25.91,5.80 -21.89,2.60 -21.00,2.60 -18.50,4.60 -10.00,4.60" fill="#ededed" stroke="#161616" stroke-width="1.25" stroke-linejoin="round"/>
<path d="M-58.17368421052632,-0.3 L-10,-0.3" stroke="#2a2a2a" stroke-width="1.8"/>
<path d="M-56.67368421052632,-2.6 L-10,-2.6" stroke="#fff" stroke-width="0.9"/>
<circle cx="0" cy="0" r="14" fill="url(#kg)" stroke="#161616" stroke-width="1.25"/>
<circle cx="3" cy="0" r="7" fill="#fff" stroke="#161616" stroke-width="1.38"/>
</g>
</g>
</svg>
</body></html>
